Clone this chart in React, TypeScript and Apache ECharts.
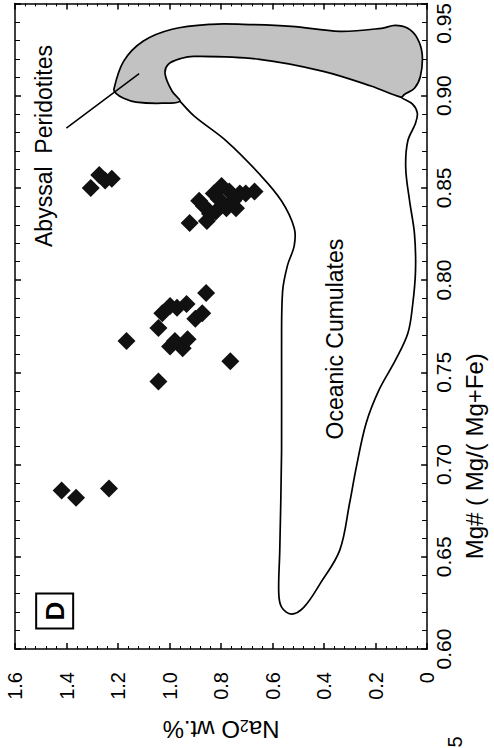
import React, { useEffect, useRef } from 'react';
import * as echarts from 'echarts';

const FONT = '"Liberation Sans", Arial, Helvetica, sans-serif';

// Axis ranges (Na2O wt.% on the horizontal axis, Mg# on the vertical axis)
const na2oMin = 0;
const na2oMax = 1.6;
const na2oStep = 0.2;
const mgMin = 0.6;
const mgMax = 0.95;
const mgStep = 0.05;

// Sample points (diamonds): Na2O wt.%, Mg#
const sampleNa2O = [
  1.306, 1.273, 1.25, 1.224,
  1.419, 1.363, 1.235,
  1.167, 1.043, 1.028, 0.998, 0.971, 0.934, 0.858, 0.9, 0.873, 0.998, 0.979, 0.949, 0.93, 1.043, 0.764,
  0.922, 0.885, 0.855, 0.828, 0.798, 0.779, 0.753, 0.727, 0.704, 0.67, 0.866, 0.821, 0.809, 0.742, 0.768, 0.843,
];
const sampleMg = [
  0.85, 0.857, 0.854, 0.855,
  0.686, 0.682, 0.687,
  0.767, 0.774, 0.782, 0.786, 0.785, 0.787, 0.793, 0.779, 0.782, 0.764, 0.767, 0.763, 0.768, 0.745, 0.756,
  0.831, 0.843, 0.832, 0.847, 0.851, 0.839, 0.843, 0.847, 0.847, 0.848, 0.84, 0.837, 0.844, 0.839, 0.848, 0.836,
];

// Abyssal Peridotites field (shaded)
const peridotiteNa2O = [
  1.216, 1.1785, 1.103, 0.99, 0.84, 0.715, 0.527, 0.339, 0.177, 0.124, 0.075, 0.038, 0.019, 0.026, 0.049,
  0.087, 0.102, 0.215, 0.403, 0.651, 0.904, 0.953, 1.005, 1.017, 0.99, 0.96, 1.028, 1.13, 1.1785, 1.208,
];
const peridotiteMg = [
  0.9035, 0.9186, 0.9295, 0.936, 0.9387, 0.9387, 0.9376, 0.9349, 0.9365, 0.9381, 0.9365, 0.9311, 0.9224, 0.9105, 0.904,
  0.9008, 0.8992, 0.9051, 0.9132, 0.9197, 0.9213, 0.9203, 0.917, 0.9116, 0.9024, 0.897, 0.8959, 0.8965, 0.8986, 0.9013,
];

// Oceanic Cumulates field (outline)
const cumulateNa2O = [
  0.102, 0.0565, 0.038, 0.045, 0.075, 0.083, 0.068, 0.049, 0.045, 0.0565, 0.075, 0.124, 0.188, 0.237, 0.275, 0.301,
  0.339, 0.414, 0.478, 0.527, 0.565, 0.576, 0.572, 0.565, 0.565, 0.561, 0.542, 0.516, 0.516, 0.565, 0.651, 0.779,
  0.904, 0.96, 1.06, 0.953, 0.651, 0.403, 0.215,
];
const cumulateMg = [
  0.8992, 0.8954, 0.8905, 0.885, 0.8754, 0.8608, 0.8429, 0.8251, 0.805, 0.7861, 0.771, 0.7563, 0.7401, 0.7223, 0.6985, 0.679,
  0.6536, 0.6357, 0.6227, 0.6189, 0.6227, 0.6303, 0.6536, 0.7077, 0.7618, 0.794, 0.808, 0.8186, 0.8283, 0.8429, 0.8575, 0.8754,
  0.8889, 0.897, 0.9115, 0.926, 0.927, 0.921, 0.913,
];

// Leader line for the "Abyssal Peridotites" label
const leaderNa2O = [1.4006, 1.118];
const leaderMg = [0.8824, 0.912];

// Text annotations anchored in data units
const annotationText = ['Abyssal  Peridotites', 'Oceanic Cumulates'];
const annotationNa2O = [1.487, 0.358];
const annotationMg = [0.8727, 0.768];
const panelLabel = 'D';
const panelNa2O = 1.446;
const panelMg = 0.6206;

const lineStyle = { color: '#000', width: 1.5 };

function polygonSeries(xs: number[], ys: number[], fill: string, z: number) {
  return {
    type: 'custom',
    coordinateSystem: 'cartesian2d',
    silent: true,
    z,
    data: [[xs[0], ys[0]]],
    renderItem: (_params: any, api: any) => ({
      type: 'polygon',
      shape: { points: xs.map((x, i) => api.coord([x, ys[i]])), smooth: 0.35 },
      style: { fill, stroke: '#000', lineWidth: 1.7 },
    }),
  };
}

export default function App() {
  const ref = useRef<HTMLDivElement>(null);
  useEffect(() => {
    const chart = echarts.init(ref.current!, null, { renderer: 'svg' });
    const xBase = {
      type: 'value',
      min: na2oMin,
      max: na2oMax,
      interval: na2oStep,
      inverse: true,
      axisLine: { show: true, onZero: false, lineStyle },
      axisTick: { show: true, inside: true, length: 6, lineStyle },
      minorTick: { show: true, splitNumber: 5, length: 3, lineStyle: { color: '#000', width: 1 } },
      splitLine: { show: false },
    };
    const yBase = {
      type: 'value',
      min: mgMin,
      max: mgMax,
      interval: mgStep,
      axisLine: { show: true, onZero: false, lineStyle },
      axisTick: { show: true, inside: true, length: 6, lineStyle },
      minorTick: { show: true, splitNumber: 5, length: 5, lineStyle: { color: '#000', width: 1 } },
      splitLine: { show: false },
    };
    chart.setOption({
      animation: false,
      backgroundColor: '#fff',
      textStyle: { fontFamily: FONT },
      grid: { left: 15, right: 53, top: 2, bottom: 99, containLabel: false },
      xAxis: [
        {
          ...xBase,
          position: 'bottom',
          axisLabel: {
            rotate: 90,
            margin: 23,
            fontSize: 20,
            color: '#000',
            fontFamily: FONT,
            formatter: (v: number) => (v === 0 ? '0' : v.toFixed(1)),
          },
          name: '{n|Na}{s|2}{n|O wt.%}',
          nameLocation: 'middle',
          nameRotate: 180,
          nameGap: 68,
          nameTextStyle: {
            color: '#000',
            fontSize: 24,
            fontFamily: FONT,
            rich: {
              n: { fontSize: 24, fontFamily: FONT, color: '#000' },
              s: { fontSize: 16, fontFamily: FONT, color: '#000', verticalAlign: 'bottom' },
            },
          },
        },
        { ...xBase, position: 'top', axisLabel: { show: false } },
      ],
      yAxis: [
        {
          ...yBase,
          position: 'right',
          axisLabel: {
            rotate: 90,
            margin: 6,
            fontSize: 21,
            color: '#000',
            fontFamily: FONT,
            formatter: (v: number) => (Math.abs(v - mgMax) < 1e-6 ? '{top|' + v.toFixed(2) + '}' : v.toFixed(2)),
            rich: { top: { fontSize: 21, fontFamily: FONT, color: '#000', padding: [0, 40, 0, 0] } },
          },
          name: 'Mg# ( Mg/( Mg+Fe)',
          nameLocation: 'middle',
          nameRotate: 90,
          nameGap: 29,
          nameTextStyle: { color: '#000', fontSize: 24, fontFamily: FONT, padding: [0, 260, 0, 0] },
        },
        { ...yBase, position: 'left', axisLabel: { show: false } },
      ],
      series: [
        polygonSeries(cumulateNa2O, cumulateMg, 'none', 1),
        polygonSeries(peridotiteNa2O, peridotiteMg, '#c2c2c2', 2),
        {
          type: 'line',
          data: leaderNa2O.map((x, i) => [x, leaderMg[i]]),
          symbol: 'none',
          lineStyle: { color: '#000', width: 1.5 },
          silent: true,
          z: 3,
        },
        {
          type: 'scatter',
          data: sampleNa2O.map((x, i) => [x, sampleMg[i]]),
          symbol: 'diamond',
          symbolSize: 18,
          itemStyle: { color: '#111', opacity: 1 },
          z: 5,
        },
      ],
    });

    const toPx = (x: number, y: number) => chart.convertToPixel({ xAxisIndex: 0, yAxisIndex: 0 }, [x, y]) as number[];
    const graphics: any[] = annotationText.map((t, i) => {
      const p = toPx(annotationNa2O[i], annotationMg[i]);
      return {
        type: 'text',
        x: p[0],
        y: p[1],
        rotation: Math.PI / 2,
        style: { text: t, fontSize: 23, fontFamily: FONT, fill: '#000', align: 'center', verticalAlign: 'middle' },
      };
    });
    const pd = toPx(panelNa2O, panelMg);
    graphics.push({
      type: 'text',
      x: pd[0],
      y: pd[1],
      rotation: Math.PI / 2,
      style: {
        text: panelLabel,
        fontSize: 26,
        fontWeight: 'bold',
        fontFamily: FONT,
        fill: '#000',
        align: 'center',
        verticalAlign: 'middle',
        borderColor: '#000',
        borderWidth: 2,
        padding: [6, 8, 5, 8],
      },
    });
    graphics.push({
      type: 'text',
      x: 455,
      y: 742,
      rotation: Math.PI / 2,
      style: { text: '5', fontSize: 20, fontFamily: FONT, fill: '#000', align: 'center', verticalAlign: 'middle' },
    });
    chart.setOption({ graphic: graphics });

    return () => chart.dispose();
  }, []);
  return <div ref={ref} style={{ position: 'absolute', left: 0, top: 0, width: 494, height: 748 }} />;
}
